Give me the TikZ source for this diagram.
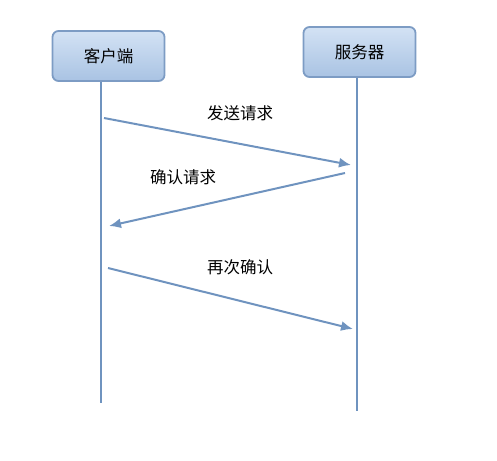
\documentclass[tikz,border=0pt]{standalone}
\usepackage{fontspec}
\newfontfamily\cjk{Noto Sans CJK SC}
\usepackage{tikz}
\usetikzlibrary{arrows.meta}
\definecolor{boxline}{HTML}{7D9CC4}
\definecolor{boxtop}{HTML}{D3E2F4}
\definecolor{boxbot}{HTML}{A9C3E3}
\definecolor{msgline}{HTML}{6F93BF}
\tikzset{
  party/.style={draw=boxline, line width=1.8pt, rounded corners=6pt, top color=boxtop, bottom color=boxbot,
    minimum width=112pt, minimum height=50pt, font=\cjk\fontsize{16.5}{18}\selectfont},
  life/.style={msgline, line width=2pt},
  msg/.style={msgline, line width=2pt, -{Latex[length=12pt,width=10pt]}},
  lbl/.style={font=\cjk\fontsize{16.5}{18}\selectfont}
}
\begin{document}
\begin{tikzpicture}[x=1pt, y=-1pt]
  \useasboundingbox (0,0) rectangle (497,460);
  \node[party] (A) at (108.5,56) {客户端};
  \node[party] (B) at (359.5,52) {服务器};

  \coordinate (A1) at (101,403);
  \coordinate (B1) at (357,411);
  \draw[life] (A.south -| A1) to (A1);
  \draw[life] (B.south -| B1) to (B1);

  \coordinate (C) at (104,118);
  \coordinate (D) at (351,165);
  \coordinate (E) at (345,173);
  \coordinate (F) at (109,226);
  \coordinate (G) at (108,268);
  \coordinate (H) at (353,329);

  \draw[msg] (C) to (D);
  \draw[msg] (E) to (F);
  \draw[msg] (G) to (H);

  \node[lbl] (L1) at (240,113) {发送请求};
  \node[lbl] (L2) at (183,177) {确认请求};
  \node[lbl] (L3) at (240,267) {再次确认};
\end{tikzpicture}
\end{document}
